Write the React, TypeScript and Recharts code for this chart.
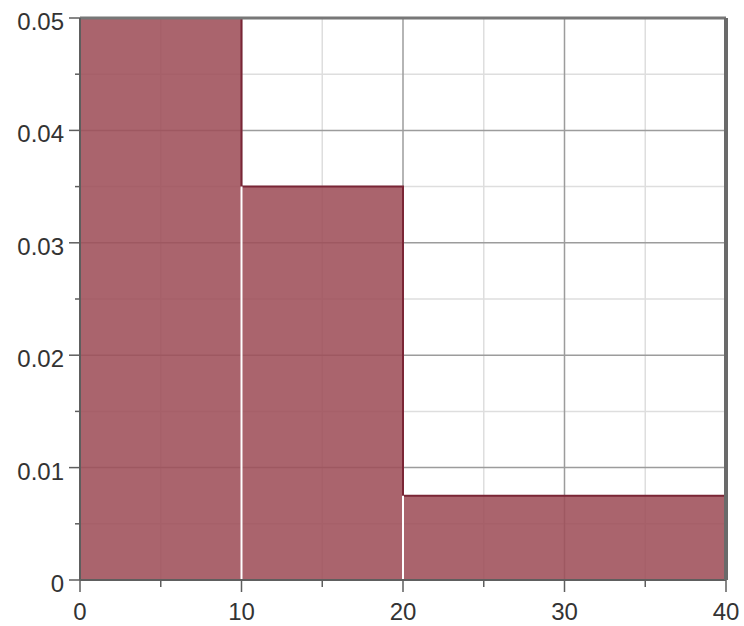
import { ComposedChart, Area, XAxis, YAxis, CartesianGrid, ReferenceLine } from "recharts";

// histogram bins: edges and density per bin
const binEdges = [0, 10, 20, 40];
const densities = [0.05, 0.035, 0.0075];

const xMajorTicks = [0, 10, 20, 30, 40];
const xMinorTicks = [5, 15, 25, 35];
const yMajorTicks = [0, 0.01, 0.02, 0.03, 0.04, 0.05];
const yMinorTicks = [0.005, 0.015, 0.025, 0.035, 0.045];

const FILL = "#9e4e59";
const EDGE = "#7a2636";
const AXIS = "#5e5e5e";
const FONT = "'Liberation Sans', Arial, sans-serif";

const stepPoints = binEdges.map((e, i) => ({
  x: e,
  y: densities[Math.min(i, densities.length - 1)],
}));

// white separators at bin edges, as high as the lower neighbouring bar
const edgeSegments = binEdges.map((e, i) => {
  const around = [densities[i - 1], densities[i]].filter((d) => d !== undefined);
  return { x: e, h: Math.min(...around) };
});

const XTick = (props: any) => {
  const { x, y, payload } = props;
  const major = xMajorTicks.includes(payload.value);
  return (
    <g>
      <line x1={x} y1={y} x2={x} y2={y + (major ? 12 : 7)} stroke={AXIS} strokeWidth={1.5} />
      {major && (
        <text x={x} y={y + 40} textAnchor="middle" fontSize={24} fontFamily={FONT} fill="#333">
          {payload.value}
        </text>
      )}
    </g>
  );
};

const YTick = (props: any) => {
  const { x, y, payload } = props;
  const major = yMajorTicks.includes(payload.value);
  return (
    <g>
      <line x1={x - (major ? 11 : 5)} y1={y} x2={x} y2={y} stroke={AXIS} strokeWidth={1.5} />
      {major && (
        <text x={x - 16} y={y + 12} textAnchor="end" fontSize={24} fontFamily={FONT} fill="#333">
          {String(payload.value)}
        </text>
      )}
    </g>
  );
};

export default function App() {
  return (
    <div style={{ position: "absolute", left: 0, top: 0, width: 744, height: 626, background: "#fff" }}>
      <ComposedChart width={744} height={626} data={stepPoints} margin={{ top: 0, right: 0, left: 0, bottom: 0 }}>
        <CartesianGrid
          stroke="#dedede"
          strokeWidth={1.5}
          verticalValues={xMinorTicks}
          horizontalValues={yMinorTicks}
        />
        <CartesianGrid
          stroke="#9c9c9c"
          strokeWidth={1.5}
          verticalValues={xMajorTicks}
          horizontalValues={yMajorTicks}
        />
        <XAxis
          dataKey="x"
          type="number"
          domain={[0, 40]}
          ticks={[...xMajorTicks, ...xMinorTicks].sort((a, b) => a - b)}
          interval={0}
          height={46}
          tickSize={0}
          tickMargin={0}
          tickLine={false}
          tick={<XTick />}
          axisLine={{ stroke: AXIS, strokeWidth: 2 }}
        />
        <XAxis
          xAxisId="top"
          orientation="top"
          type="number"
          domain={[0, 40]}
          height={18}
          tick={false}
          tickLine={false}
          axisLine={{ stroke: "#777", strokeWidth: 3 }}
        />
        <YAxis
          type="number"
          domain={[0, 0.05]}
          ticks={[...yMajorTicks, ...yMinorTicks].sort((a, b) => a - b)}
          interval={0}
          width={80}
          tickSize={0}
          tickMargin={0}
          tickLine={false}
          tick={<YTick />}
          axisLine={{ stroke: AXIS, strokeWidth: 2 }}
        />
        <YAxis
          yAxisId="right"
          orientation="right"
          type="number"
          domain={[0, 0.05]}
          width={18}
          tick={false}
          tickLine={false}
          axisLine={{ stroke: "#6a6a6a", strokeWidth: 4 }}
        />
        <Area
          type="stepAfter"
          dataKey="y"
          baseValue={0}
          fill={FILL}
          fillOpacity={0.88}
          stroke={EDGE}
          strokeWidth={2}
          isAnimationActive={false}
          dot={false}
          activeDot={false}
        />
        {edgeSegments.map((s) => (
          <ReferenceLine
            key={s.x}
            segment={[{ x: s.x, y: 0 }, { x: s.x, y: s.h }]}
            stroke="#fff"
            strokeWidth={2}
          />
        ))}
        <ReferenceLine
          segment={[{ x: binEdges[0], y: 0 }, { x: binEdges[binEdges.length - 1], y: 0 }]}
          stroke="#fbe9ec"
          strokeWidth={1}
        />
      </ComposedChart>
    </div>
  );
}
